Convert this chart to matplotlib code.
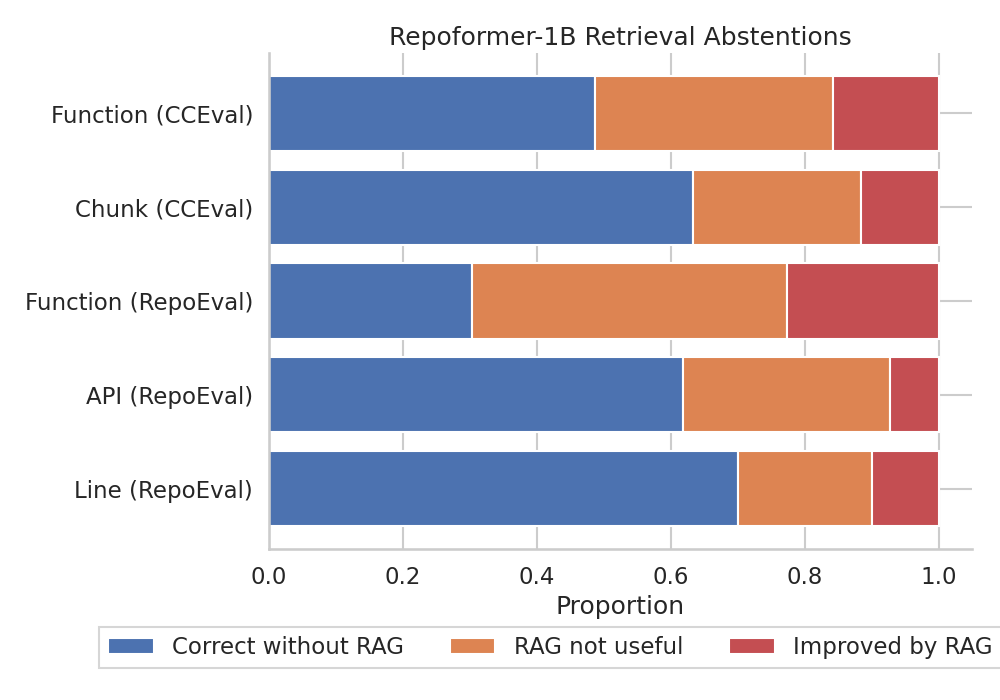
import numpy as np
import matplotlib.pyplot as plt
import seaborn as sns

sns.set_theme(style="whitegrid", context="talk")

tasks = ["Function (CCEval)", "Chunk (CCEval)", "Function (RepoEval)",
         "API (RepoEval)", "Line (RepoEval)"]
correct_wo_rag = [0.487, 0.634, 0.303, 0.619, 0.701]
rag_not_useful = [0.355, 0.250, 0.470, 0.308, 0.199]
improved_by_rag = [0.158, 0.116, 0.227, 0.073, 0.100]
series_names = ["Correct without RAG", "RAG not useful", "Improved by RAG"]

colors = sns.color_palette("deep")
cols = [colors[0], colors[1], colors[3]]

fig, ax = plt.subplots(figsize=(10, 7), dpi=100)
fig.subplots_adjust(left=0.269, right=0.972, top=0.924, bottom=0.216)

y = np.arange(len(tasks))
left = np.zeros(len(tasks))
for name, vals, c in zip(series_names, [correct_wo_rag, rag_not_useful, improved_by_rag], cols):
    ax.barh(y, vals, left=left, height=0.8, color=c, label=name, edgecolor="white")
    left += np.array(vals)

ax.set_yticks(y)
ax.set_yticklabels(tasks)
ax.invert_yaxis()
ax.set_xlim(0, 1.05)
ax.tick_params(axis="y", pad=2.5)
ax.tick_params(axis="x", pad=3.5)
ax.set_xlabel("Proportion")
ax.set_title("Repoformer-1B Retrieval Abstentions")
sns.despine(ax=ax)

ax.legend(loc="upper center", bbox_to_anchor=(0.4, -0.135), ncol=3,
          frameon=True, fancybox=False)

fig.savefig("out.png")
